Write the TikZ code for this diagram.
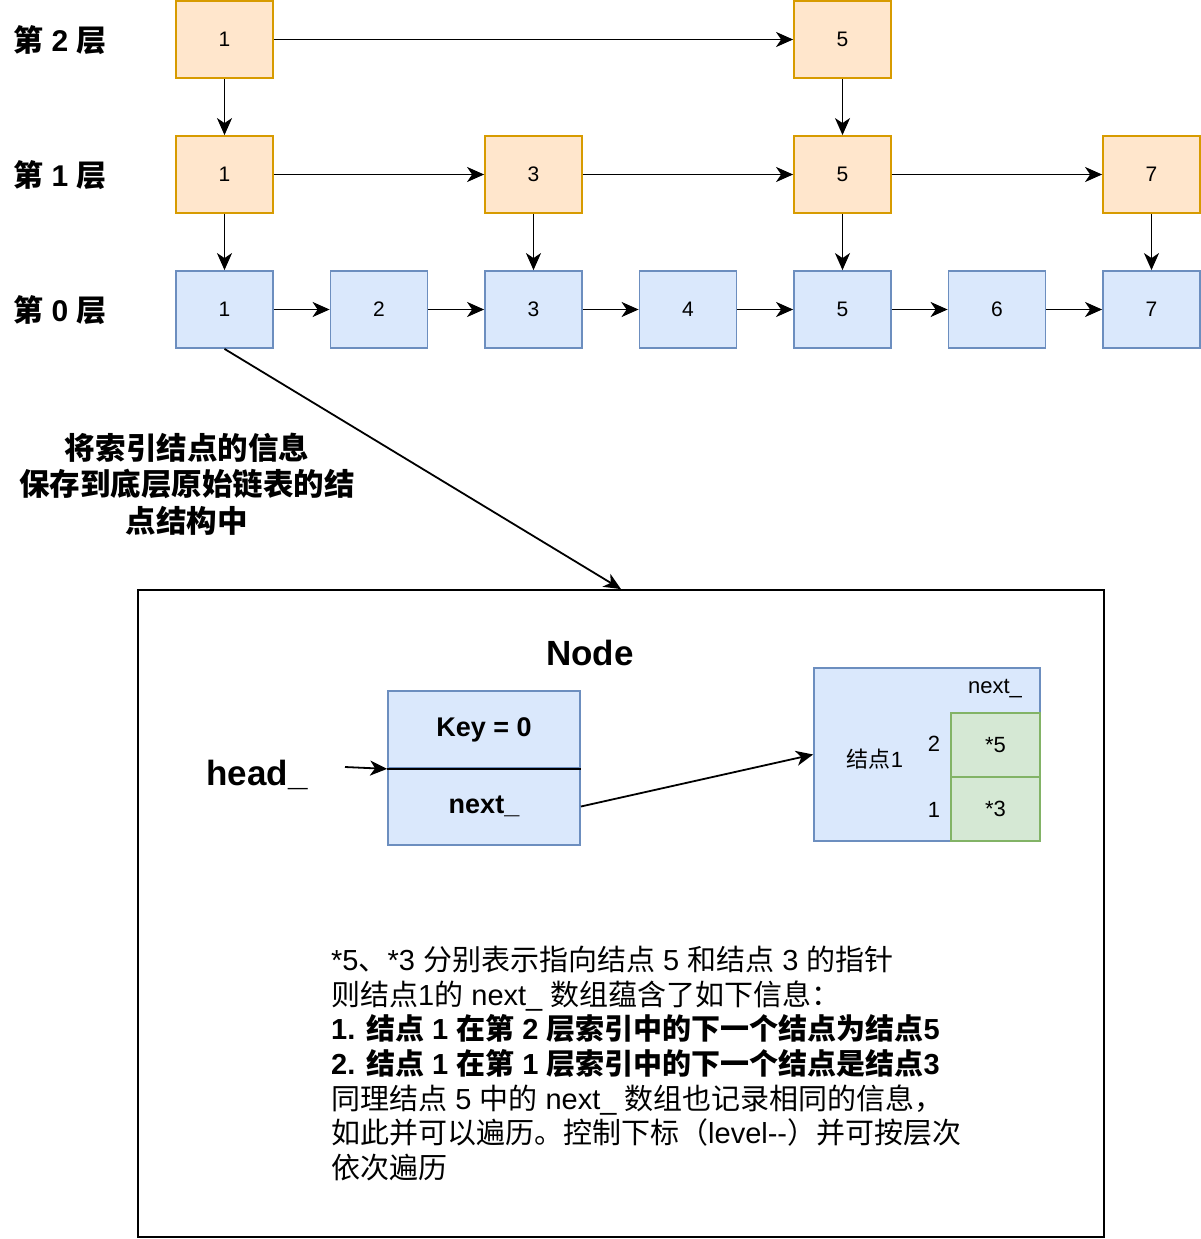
\documentclass[tikz,border=0pt]{standalone}
\usepackage{fontspec}
\setmainfont{Liberation Sans}
\newfontfamily\cjk{Noto Sans CJK SC}
\usetikzlibrary{arrows.meta}
\definecolor{ofill}{HTML}{FFE6CC}
\definecolor{ostroke}{HTML}{D79B00}
\definecolor{bfill}{HTML}{DAE8FC}
\definecolor{bstroke}{HTML}{6C8EBF}
\definecolor{gfill}{HTML}{D5E8D4}
\definecolor{gstroke}{HTML}{82B366}
\newcommand\zhs[1]{{\cjk #1}}
\begin{document}
\begin{tikzpicture}[x=1pt,y=-1pt,
  cell/.style={line width=1.8pt, minimum width=97pt, minimum height=77pt, inner sep=0pt, font=\fontsize{21}{25}\selectfont},
  obox/.style={cell, draw=ostroke, fill=ofill},
  bbox/.style={cell, draw=bstroke, fill=bfill},
  gbox/.style={draw=gstroke, fill=gfill, line width=1.8pt, minimum width=89pt, minimum height=64pt, inner sep=0pt, font=\fontsize{22}{26}\selectfont},
  arr/.style={line width=1.8pt, -{Stealth[length=17pt,width=15pt,inset=5pt]}},
  lvl/.style={font=\fontsize{30}{34}\selectfont\bfseries, inner sep=0pt},
  lbl/.style={font=\fontsize{22}{26}\selectfont, inner sep=0pt}
]
\useasboundingbox (0,0) rectangle (1200,1239);

% level labels
\node[lvl] (l2) at (60,40) {\zhs{第} 2 \zhs{层}};
\node[lvl] (l1) at (60,175) {\zhs{第} 1 \zhs{层}};
\node[lvl] (l0) at (60,310) {\zhs{第} 0 \zhs{层}};

% level 2
\node[obox] (b2-1) at (224.5,39.5) {1};
\node[obox] (b2-5) at (842.5,39.5) {5};
% level 1
\node[obox] (b1-1) at (224.5,174.5) {1};
\node[obox] (b1-3) at (533.5,174.5) {3};
\node[obox] (b1-5) at (842.5,174.5) {5};
\node[obox] (b1-7) at (1151.5,174.5) {7};
% level 0
\foreach \i/\x in {1/224.5,2/379,3/533.5,4/688,5/842.5,6/997,7/1151.5}
  \node[bbox] (b0-\i) at (\x,309.5) {\i};

% arrows
\draw[arr] (b2-1) -- (b2-5);
\draw[arr] (b2-1) -- (b1-1);
\draw[arr] (b2-5) -- (b1-5);
\draw[arr] (b1-1) -- (b1-3);
\draw[arr] (b1-3) -- (b1-5);
\draw[arr] (b1-5) -- (b1-7);
\foreach \i in {1,3,5,7} \draw[arr] (b1-\i) -- (b0-\i);
\foreach \i/\j in {1/2,2/3,3/4,4/5,5/6,6/7} \draw[arr] (b0-\i) -- (b0-\j);

% annotation
\node[align=center, inner sep=0pt, font=\fontsize{30.5}{36.5}\selectfont\bfseries\cjk] (note) at (187,484)
  {将索引结点的信息\\保存到底层原始链表的结\\点结构中};

% big box
\node[draw, line width=1.8pt, minimum width=966pt, minimum height=647pt, inner sep=0pt] (big) at (621,913.5) {};
\draw[arr] (b0-1.south) -- (big.north);

\node[inner sep=0pt, font=\fontsize{35}{40}\selectfont\bfseries] (title) at (590,653) {Node};

% key node
\node[draw=bstroke, fill=bfill, line width=1.8pt, minimum width=192pt, minimum height=77pt, inner sep=0pt, font=\fontsize{27}{31}\selectfont\bfseries] (key) at (484,729.5) {Key = 0};
\node[draw=bstroke, fill=bfill, line width=1.8pt, minimum width=192pt, minimum height=77pt, inner sep=0pt, font=\fontsize{27}{31}\selectfont\bfseries] (nxt) at (484,806.5) {next\_};
\draw[line width=1.8pt] (key.south west) -- (key.south east);

\node[inner sep=0pt, font=\fontsize{35}{40}\selectfont\bfseries] (head) at (257,775) {head\_};
\coordinate (hstart) at (345,767);
\draw[arr] (hstart) -- (key.south west);

% node 1 structure
\node[draw=bstroke, fill=bfill, line width=1.8pt, minimum width=226pt, minimum height=173pt, inner sep=0pt] (n1) at (927,754.5) {};
\node[gbox] (g5) at (995.5,745) {*5};
\node[gbox] (g3) at (995.5,809) {*3};
\node[lbl] (nx) at (995,689) {next\_};
\node[lbl] (n1lbl) at (875,759) {\zhs{结点}1};
\node[lbl] (i2) at (934,744) {2};
\node[lbl] (i1) at (934,810) {1};
\draw[arr] (nxt.east) -- (n1.west);

% explanation
\node[anchor=north west, align=left, inner sep=0pt, font=\fontsize{29}{34.6}\selectfont] (expl) at (331,946) {%
*5\zhs{、}*3 \zhs{分别表示指向结点} 5 \zhs{和结点} 3 \zhs{的指针}\\
\zhs{则结点}1\zhs{的} next\_ \zhs{数组蕴含了如下信息：}\\
\bfseries 1. \zhs{结点} 1 \zhs{在第} 2 \zhs{层索引中的下一个结点为结点}5\\
\bfseries 2. \zhs{结点} 1 \zhs{在第} 1 \zhs{层索引中的下一个结点是结点}3\\
\zhs{同理结点} 5 \zhs{中的} next\_ \zhs{数组也记录相同的信息，}\\
\zhs{如此并可以遍历。控制下标（}level-{}-\zhs{）并可按层次}\\
\zhs{依次遍历}};
\end{tikzpicture}
\end{document}
